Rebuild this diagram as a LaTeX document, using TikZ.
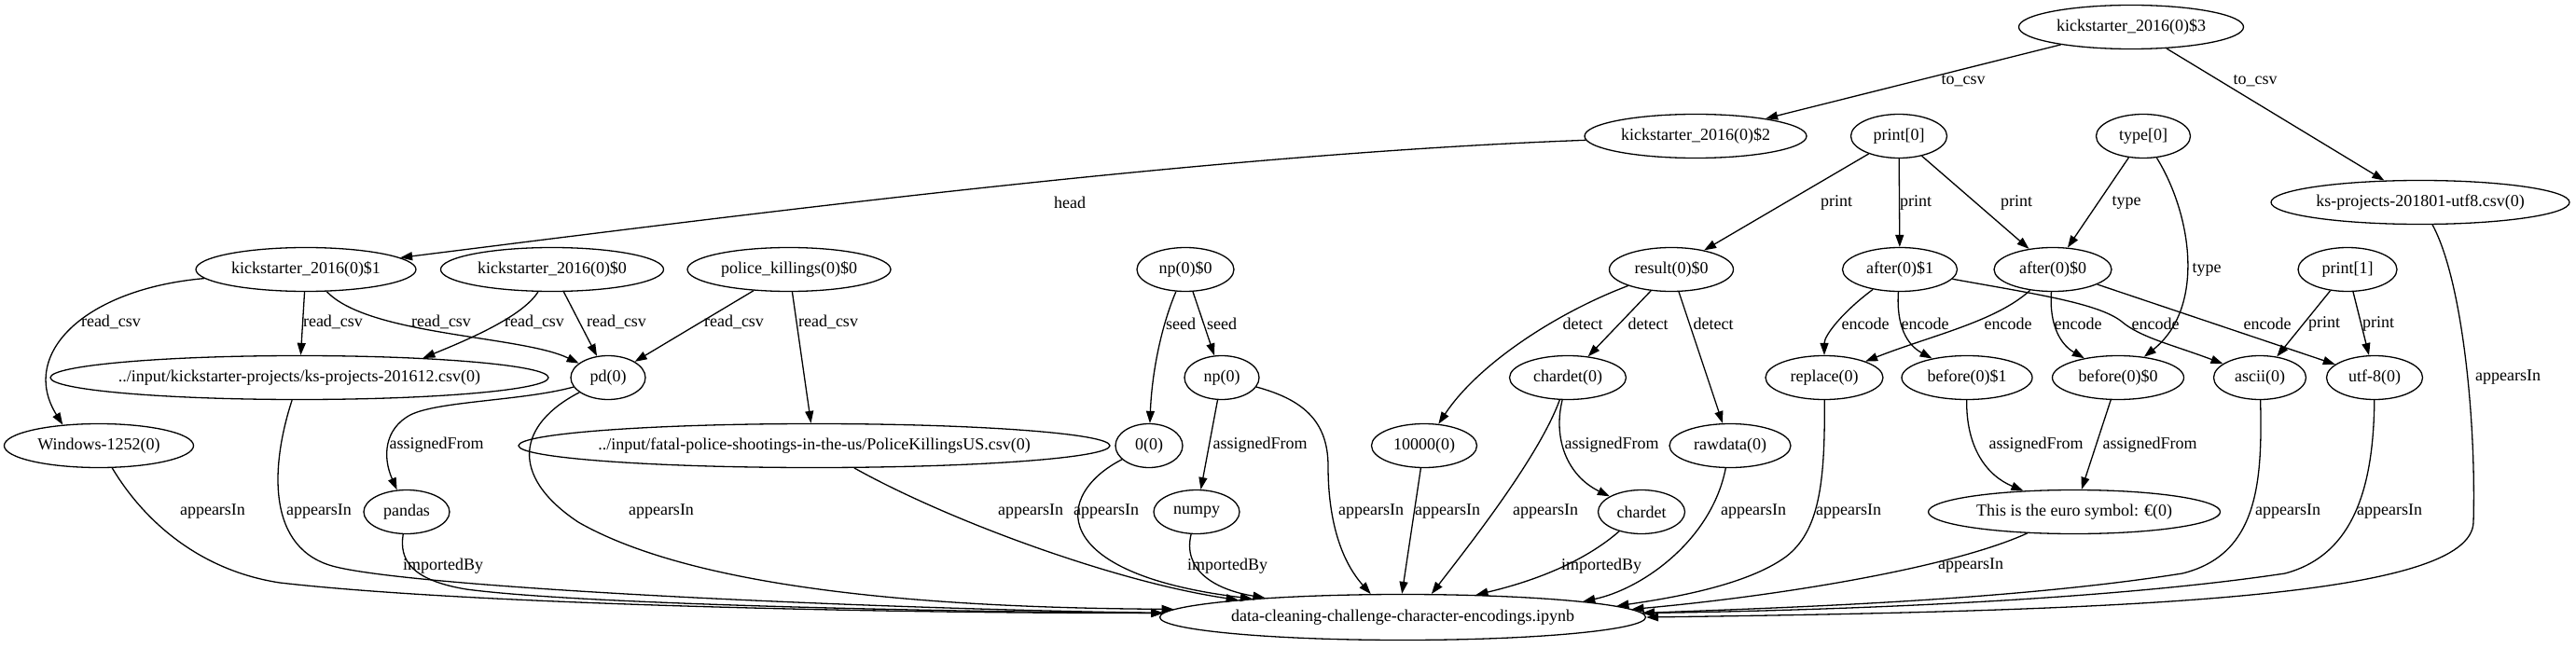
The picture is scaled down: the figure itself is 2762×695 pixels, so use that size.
\documentclass[tikz,border=0pt]{standalone}
\usepackage{fontspec}
\setmainfont{Liberation Serif}
\usetikzlibrary{shapes.geometric,arrows.meta}

\tikzset{
  nodo/.style={draw, ellipse, line width=1.3pt, inner xsep=0pt, inner ysep=2pt, minimum height=47pt},
  flecha/.style={-{Stealth[length=13pt,width=9pt,inset=0pt]}, line width=1.3pt},
  etiq/.style={inner sep=0pt},
}

\begin{document}
\begin{tikzpicture}[x=1pt, y=-1pt, font=\fontsize{18}{21}\selectfont]
    \useasboundingbox (0,0) rectangle (2762,695);

    % Nodos (fila superior)
    \node[nodo, minimum width=241pt] (ks3) at (2285,29) {kickstarter\_2016(0)\$3};
    \node[nodo, minimum width=238pt] (ks2) at (1818,146) {kickstarter\_2016(0)\$2};
    \node[nodo, minimum width=103pt] (print0) at (2036,146) {print[0]};
    \node[nodo, minimum width=101pt] (type0) at (2298,146) {type[0]};
    \node[nodo, minimum width=320pt] (ksutf8) at (2595,217) {ks-projects-201801-utf8.csv(0)};

    % Nodos (segunda fila)
    \node[nodo, minimum width=236pt] (ks1) at (328,289) {kickstarter\_2016(0)\$1};
    \node[nodo, minimum width=239pt] (ks0) at (592,289) {kickstarter\_2016(0)\$0};
    \node[nodo, minimum width=218pt] (police) at (846,289) {police\_killings(0)\$0};
    \node[nodo, minimum width=104pt] (np0) at (1271,289) {np(0)\$0};
    \node[nodo, minimum width=133pt] (result) at (1792,289) {result(0)\$0};
    \node[nodo, minimum width=123pt] (after1) at (2037,289) {after(0)\$1};
    \node[nodo, minimum width=126pt] (after0) at (2201,289) {after(0)\$0};
    \node[nodo, minimum width=106pt] (print1) at (2517,289) {print[1]};

    % Nodos (tercera fila)
    \node[nodo, minimum width=534pt, inner xsep=-6pt] (ks612) at (321,405) {../input/kickstarter-projects/ks-projects-201612.csv(0)};
    \node[nodo, minimum width=80pt] (pd) at (652,405) {pd(0)};
    \node[nodo, minimum width=80pt] (np) at (1310,405) {np(0)};
    \node[nodo, minimum width=125pt] (chardet0) at (1681,405) {chardet(0)};
    \node[nodo, minimum width=126pt] (replace) at (1956,405) {replace(0)};
    \node[nodo, minimum width=140pt] (before1) at (2109,405) {before(0)\$1};
    \node[nodo, minimum width=141pt] (before0) at (2271,405) {before(0)\$0};
    \node[nodo, minimum width=99pt] (ascii) at (2423,405) {ascii(0)};
    \node[nodo, minimum width=103pt] (utf8) at (2546,405) {utf-8(0)};

    % Nodos (cuarta fila)
    \node[nodo, minimum width=203pt] (windows) at (106,478) {Windows-1252(0)};
    \node[nodo, minimum width=634pt, inner xsep=-8pt] (fatal) at (873,478) {../input/fatal-police-shootings-in-the-us/PoliceKillingsUS.csv(0)};
    \node[nodo, minimum width=72pt] (zero) at (1232,478) {0(0)};
    \node[nodo, minimum width=113pt] (n10000) at (1527,478) {10000(0)};
    \node[nodo, minimum width=130pt] (rawdata) at (1855,478) {rawdata(0)};

    % Nodos (quinta fila)
    \node[nodo, minimum width=92pt] (pandas) at (436,549) {pandas};
    \node[nodo, minimum width=92pt] (numpy) at (1283,549) {numpy};
    \node[nodo, minimum width=93pt] (chardet) at (1760,549) {chardet};
    \node[nodo, minimum width=313pt] (euro) at (2224,549) {This is the euro symbol: €(0)};

    % Cuaderno
    \node[nodo, minimum width=521pt, minimum height=49pt] (nb) at (1504,662) {data-cleaning-challenge-character-encodings.ipynb};

    % Aristas superiores
    \draw[flecha] (ks3) -- (ks2) node[etiq] at (2105,87) {to\_csv};
    \draw[flecha] (ks3) -- (ksutf8) node[etiq] at (2418,87) {to\_csv};
    \draw[flecha] (ks2) .. controls (1300,165) and (800,230) .. (ks1) node[etiq] at (1147,217) {head};
    \draw[flecha] (print0) -- (result) node[etiq] at (1969,217) {print};
    \draw[flecha] (print0) -- (after1) node[etiq] at (2054,217) {print};
    \draw[flecha] (print0) -- (after0) node[etiq] at (2162,217) {print};
    \draw[flecha] (type0) -- (after0) node[etiq] at (2280,217) {type};
    \draw[flecha] (type0) .. controls (2350,230) and (2365,330) .. (before0) node[etiq] at (2366,289) {type};

    % read_csv y seed
    \draw[flecha] (ks1) .. controls (90,310) and (20,380) .. (windows.150) node[etiq] at (119,345) {read\_csv};
    \draw[flecha] (ks1) -- (ks612) node[etiq] at (357,345) {read\_csv};
    \draw[flecha] (ks1) .. controls (395,360) and (560,360) .. (pd) node[etiq] at (473,345) {read\_csv};
    \draw[flecha] (ks0) .. controls (560,340) and (500,365) .. (ks612.9) node[etiq] at (573,345) {read\_csv};
    \draw[flecha] (ks0) -- (pd) node[etiq] at (661,345) {read\_csv};
    \draw[flecha] (police) -- (pd) node[etiq] at (787,345) {read\_csv};
    \draw[flecha] (police) -- (fatal) node[etiq] at (888,345) {read\_csv};
    \draw[flecha] (np0) .. controls (1245,350) and (1235,400) .. (zero) node[etiq] at (1266,347) {seed};
    \draw[flecha] (np0) -- (np) node[etiq] at (1310,347) {seed};

    % detect
    \draw[flecha] (result) .. controls (1670,335) and (1585,390) .. (n10000) node[etiq] at (1697,347) {detect};
    \draw[flecha] (result) -- (chardet0) node[etiq] at (1767,347) {detect};
    \draw[flecha] (result) -- (rawdata) node[etiq] at (1837,347) {detect};

    % encode y print
    \draw[flecha] (after1) .. controls (1975,335) and (1956,360) .. (replace) node[etiq] at (2000,347) {encode};
    \draw[flecha] (after1) .. controls (2033,350) and (2045,370) .. (before1) node[etiq] at (2064,347) {encode};
    \draw[flecha] (after1) .. controls (2180,315) and (2250,325) .. (2275,345) .. controls (2295,362) and (2330,370) .. (ascii) node[etiq] at (2311,347) {encode};
    \draw[flecha] (after0) .. controls (2140,345) and (2070,360) .. (replace) node[etiq] at (2153,347) {encode};
    \draw[flecha] (after0) .. controls (2197,350) and (2210,370) .. (before0) node[etiq] at (2228,347) {encode};
    \draw[flecha] (after0) -- (utf8) node[etiq] at (2431,347) {encode};
    \draw[flecha] (print1) -- (ascii) node[etiq] at (2492,347) {print};
    \draw[flecha] (print1) -- (utf8) node[etiq] at (2550,347) {print};

    % assignedFrom
    \draw[flecha] (pd) .. controls (560,430) and (470,430) .. (440,445) .. controls (412,460) and (410,490) .. (pandas) node[etiq] at (468,477) {assignedFrom};
    \draw[flecha] (np) -- (numpy) node[etiq] at (1351,477) {assignedFrom};
    \draw[flecha] (chardet0) .. controls (1665,470) and (1680,510) .. (chardet) node[etiq] at (1728,477) {assignedFrom};
    \draw[flecha] (before1) .. controls (2108,480) and (2130,510) .. (euro) node[etiq] at (2183,477) {assignedFrom};
    \draw[flecha] (before0) -- (euro) node[etiq] at (2305,477) {assignedFrom};

    % appearsIn e importedBy
    \draw[flecha] (windows) .. controls (155,560) and (215,612) .. (300,625) .. controls (520,650) and (1000,658) .. (nb.179) node[etiq] at (228,549) {appearsIn};
    \draw[flecha] (ks612) .. controls (290,500) and (285,590) .. (360,608) .. controls (450,630) and (900,652) .. (nb.179) node[etiq] at (342,549) {appearsIn};
    \draw[flecha] (pandas) .. controls (428,600) and (440,622) .. (500,632) .. controls (620,648) and (1000,656) .. (nb.179) node[etiq] at (475,607) {importedBy};
    \draw[flecha] (pd) .. controls (555,455) and (545,510) .. (620,560) .. controls (760,640) and (1050,652) .. (nb.178) node[etiq] at (709,549) {appearsIn};
    \draw[flecha] (fatal) .. controls (1020,560) and (1200,625) .. (nb.174.5) node[etiq] at (1105,549) {appearsIn};
    \draw[flecha] (zero) .. controls (1130,530) and (1120,615) .. (nb.173.5) node[etiq] at (1186,549) {appearsIn};
    \draw[flecha] (numpy) .. controls (1268,610) and (1300,632) .. (nb.172.6) node[etiq] at (1316,607) {importedBy};
    \draw[flecha] (np) .. controls (1395,428) and (1424,450) .. (1424,500) .. controls (1424,580) and (1450,615) .. (nb.144.6) node[etiq] at (1470,549) {appearsIn};
    \draw[flecha] (n10000) -- (nb.92) node[etiq] at (1552,549) {appearsIn};
    \draw[flecha] (chardet0) .. controls (1650,490) and (1575,585) .. (nb.39.4) node[etiq] at (1657,549) {appearsIn};
    \draw[flecha] (chardet) .. controls (1690,610) and (1625,628) .. (nb.17.5) node[etiq] at (1717,607) {importedBy};
    \draw[flecha] (rawdata) .. controls (1835,580) and (1760,632) .. (nb.5.5) node[etiq] at (1880,549) {appearsIn};
    \draw[flecha] (replace) .. controls (1957,520) and (1950,570) .. (1915,597) .. controls (1870,630) and (1780,643) .. (nb.3.1) node[etiq] at (1982,549) {appearsIn};
    \draw[flecha] (euro) .. controls (2090,610) and (1900,640) .. (nb.2.2) node[etiq] at (2113,607) {appearsIn};
    \draw[flecha] (ascii) .. controls (2426,520) and (2420,595) .. (2340,615) .. controls (2150,645) and (1900,652) .. (nb.1.7) node[etiq] at (2453,549) {appearsIn};
    \draw[flecha] (utf8) .. controls (2545,520) and (2525,595) .. (2450,615) .. controls (2250,645) and (1950,655) .. (nb.1.2) node[etiq] at (2562,549) {appearsIn};
    \draw[flecha] (ksutf8) .. controls (2640,300) and (2655,450) .. (2652,560) .. controls (2650,640) and (2300,655) .. (nb.0) node[etiq] at (2689,405) {appearsIn};
\end{tikzpicture}
\end{document}
